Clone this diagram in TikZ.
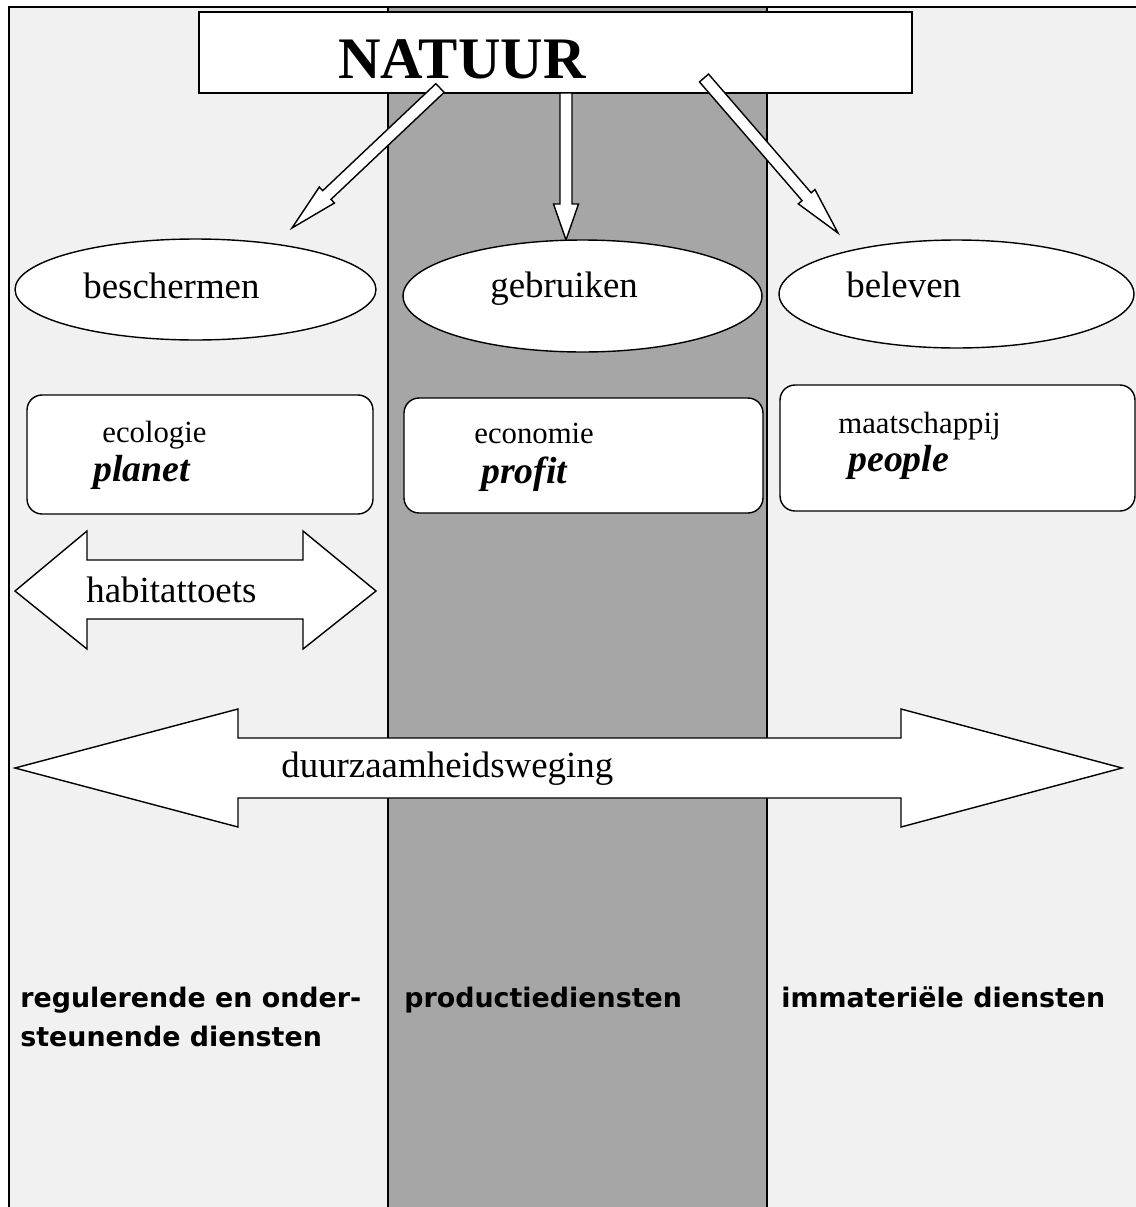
\documentclass[tikz,border=0pt]{standalone}
\usepackage{fontspec}
\setmainfont{Liberation Serif}
\newfontfamily\dienstfont{DejaVu Sans}
\usetikzlibrary{shapes.geometric,calc}

\definecolor{lichtgrijs}{HTML}{F1F1F1}
\definecolor{donkergrijs}{HTML}{A6A6A6}

\tikzset{
  kolomlijn/.style={line width=1.1pt},
  ovaal/.style={ellipse,draw,fill=white,line width=0.8pt,inner sep=0pt},
  vak/.style={rectangle,rounded corners=0.3cm,draw,fill=white,line width=0.8pt,inner sep=0pt},
  pijlrand/.style={draw,fill=white,line width=0.8pt,line join=miter},
  tekst/.style={anchor=base west,inner sep=0pt},
  groot/.style={tekst,font=\fontsize{21}{25}\selectfont},
  klein/.style={tekst,font=\fontsize{17.5}{21}\selectfont},
  nadruk/.style={tekst,font=\fontsize{21.5}{25}\selectfont\bfseries\itshape},
  dienst/.style={inner sep=0pt,align=left,font=\dienstfont\bfseries\fontsize{15.3}{22}\selectfont}
}

% pijl van #1 naar #2, kop lengte #3, halve kopbreedte #4
\newcommand{\natuurpijl}[4]{%
  \path ($(#2)!#3!(#1)$) coordinate (kb);
  \draw[pijlrand] ($(#1)!0.12cm!90:(#2)$) -- ($(kb)!0.12cm!90:(#2)$) -- ($(kb)!#4!90:(#2)$)
    -- (#2) -- ($(kb)!#4!-90:(#2)$) -- ($(kb)!0.12cm!-90:(#2)$) -- ($(#1)!0.12cm!-90:(#2)$) -- cycle;
}

\begin{document}
\begin{tikzpicture}[x=0.02cm,y=-0.02cm]
\useasboundingbox (0,0) rectangle (1136,1207);

% kolommen
\fill[lichtgrijs] (9,7) rectangle (388,1207);
\fill[donkergrijs] (388,7) rectangle (767,1207);
\fill[lichtgrijs] (767,7) rectangle (1136,1207);
\draw[kolomlijn] (9,1207) -- (9,7) -- (1136,7);
\draw[kolomlijn] (388,7) -- (388,1207);
\draw[kolomlijn] (767,7) -- (767,1207);

% natuur
\node at (555.5,52.5) [rectangle,draw,fill=white,line width=1.2pt,minimum width=14.26cm,minimum height=1.62cm] (natuur) {};
\node at (338,78) [tekst,font=\fontsize{33.5}{40}\selectfont\bfseries] (natuurtekst) {NATUUR};

\coordinate (p1) at (440,88);
\coordinate (q1) at (292,228);
\coordinate (p2) at (566,93);
\coordinate (q2) at (566,240);
\coordinate (p3) at (704,78);
\coordinate (q3) at (838,233);
\natuurpijl{p1}{q1}{0.96cm}{0.22cm}
\natuurpijl{p2}{q2}{0.72cm}{0.25cm}
\natuurpijl{p3}{q3}{0.96cm}{0.22cm}

% ovalen
\node at (195.5,289.5) [ovaal,minimum width=7.22cm,minimum height=2.02cm] (beschermen) {};
\node at (582.5,296) [ovaal,minimum width=7.18cm,minimum height=2.24cm] (gebruiken) {};
\node at (956.5,294) [ovaal,minimum width=7.1cm,minimum height=2.16cm] (beleven) {};
\node at (83,298) [groot] (t1) {beschermen};
\node at (490,297) [groot] (t2) {gebruiken};
\node at (846,297) [groot] (t3) {beleven};

% vakken
\node at (200,454.5) [vak,minimum width=6.92cm,minimum height=2.38cm] (ecologie) {};
\node at (583.5,455.5) [vak,minimum width=7.18cm,minimum height=2.3cm] (economie) {};
\node at (957.5,448) [vak,minimum width=7.1cm,minimum height=2.52cm] (maatschappij) {};
\node at (102,442) [klein] (e1) {ecologie};
\node at (93,481) [nadruk] (e2) {planet};
\node at (474,443) [klein] (e3) {economie};
\node at (481,483) [nadruk] (e4) {profit};
\node at (838,433) [klein] (e5) {maatschappij};
\node at (848,471) [nadruk] (e6) {people};

% dubbele pijlen
\draw[pijlrand] (15,591) -- (87,531) -- (87,560) -- (303,560) -- (303,531) -- (376,591)
  -- (303,649) -- (303,619) -- (87,619) -- (87,649) -- cycle;
\node at (86,602) [groot] (habitat) {habitattoets};

\draw[pijlrand] (15,768) -- (238,709) -- (238,738) -- (901,738) -- (901,709) -- (1122,768)
  -- (901,827) -- (901,798) -- (238,798) -- (238,827) -- cycle;
\node at (281,777) [groot] (weging) {duurzaamheidsweging};

% diensten
\node at (20,987) [dienst,anchor=north west] (d1) {regulerende en onder-\\steunende diensten};
\node at (404,1007) [dienst,anchor=base west] (d2) {productiediensten};
\node at (781,1007) [dienst,anchor=base west] (d3) {immateriële diensten};

\end{tikzpicture}
\end{document}
